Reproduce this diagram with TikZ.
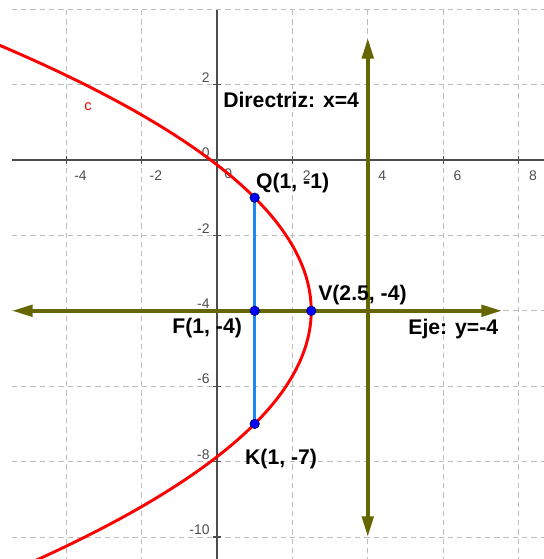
\documentclass[tikz,border=0pt]{standalone}
\usepackage{fontspec}
\setmainfont{Liberation Sans}
\usepackage{tikz}
\usetikzlibrary{positioning,arrows.meta,calc}
\definecolor{olivegg}{HTML}{666600}
\definecolor{redgg}{HTML}{FF0000}
\definecolor{bluegg}{HTML}{1E88F0}
\definecolor{pointgg}{HTML}{0000FF}
\definecolor{gridgg}{HTML}{BDBDBD}
\definecolor{axisgg}{HTML}{4D4D4D}

\tikzset{
  ticklbl/.style={font=\fontsize{10.5}{12}\selectfont, text=axisgg, inner sep=0pt},
  ptlbl/.style={font=\fontsize{16}{18}\selectfont\bfseries, inner sep=0pt, anchor=west},
  ggpoint/.style={circle, fill=pointgg, draw=black!60!blue, line width=0.5pt, inner sep=0pt, minimum size=2.5mm},
  olivearrow/.style={olivegg, line width=3pt,
    {Triangle[length=5.5mm,width=3mm]}-{Triangle[length=5.5mm,width=3mm]}},
  gridline/.style={gridgg, dash pattern=on 4pt off 3pt, line width=0.6pt},
}

\begin{document}
\begin{tikzpicture}[scale=1]
        \useasboundingbox (-5.756,-10.584) rectangle (8.674,4.244);
        \clip (-5.756,-10.584) rectangle (8.674,4.244);
        % Grid
        \foreach \x in {-4,-2,2,4,6,8}
          \draw[gridline] (\x,3.98) -- (\x,-10.584);
        \foreach \y in {4,2,-2,-4,-6,-8,-10}
          \draw[gridline] (-5.44,\y) -- (8.674,\y);
        % Axes
        \draw[axisgg, line width=0.8pt] (-5.44,0) -- (8.674,0);
        \draw[axisgg, line width=0.8pt] (0,3.98) -- (0,-10.584);
        % Ticks and numbers
        \foreach \x in {-4,-2,2,4,6,8} {
          \draw[axisgg, line width=0.8pt] (\x,0.1) -- (\x,-0.1);
          \node[ticklbl, anchor=north] at (\x+0.38,-0.27) {\x};
        }
        \node[ticklbl, anchor=north] at (0.3,-0.23) {0};
        \foreach \y in {2,0,-2,-4,-6,-8,-10} {
          \draw[axisgg, line width=0.8pt] (0.1,\y) -- (-0.1,\y);
          \node[ticklbl, anchor=east] at (-0.19,\y+0.19) {\y};
        }
        % Axis of symmetry and directrix
        \coordinate (ejeL) at (-5.44,-4);
        \coordinate (ejeR) at (7.56,-4);
        \coordinate (dirT) at (4,3.24);
        \coordinate (dirB) at (4,-10);
        \draw[olivearrow] (ejeL) -- (ejeR);
        \draw[olivearrow] (dirB) -- (dirT);
        % Parabola (y+4)^2 = -6(x-2.5)
        \draw[redgg, line width=2.2pt, domain=-7.3:7.3, samples=90, variable=\t]
          plot ({2.5-\t*\t/6},{-4+\t});
        \node[font=\fontsize{11}{12}\selectfont, text=redgg] (clbl) at (-3.42,1.41) {c};
        % Latus rectum
        \coordinate (Q) at (1,-1);
        \coordinate (F) at (1,-4);
        \coordinate (K) at (1,-7);
        \coordinate (V) at (2.5,-4);
        \draw[bluegg, line width=2.2pt] (Q) -- (K);
        \foreach \p in {Q,F,K,V}
          \node[ggpoint] at (\p) {};
        % Labels
        \node[ptlbl] (dirlbl) at (0.16,1.59) {Directriz: x=4};
        \node[ptlbl] (qlbl) at (1.03,-0.61) {Q(1, -1)};
        \node[ptlbl] (vlbl) at (2.68,-3.57) {V(2.5, -4)};
        \node[ptlbl] (flbl) at (-1.19,-4.46) {F(1, -4)};
        \node[ptlbl] (klbl) at (0.74,-7.93) {K(1, -7)};
        \node[ptlbl] (ejelbl) at (5.07,-4.48) {Eje: y=-4};
      \end{tikzpicture}
\end{document}
